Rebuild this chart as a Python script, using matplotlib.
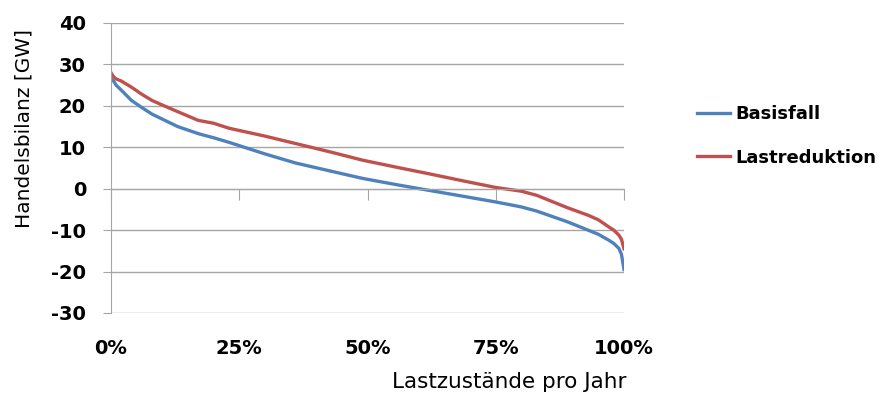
import matplotlib.pyplot as plt
from matplotlib.ticker import PercentFormatter

plt.rcParams['font.family'] = ['DejaVu Sans']
plt.rcParams['axes.unicode_minus'] = False

# Lastzustaende (Anteil pro Jahr, %)
anteil = [0, 0.5, 1, 2, 4, 6, 8, 10, 13, 17, 20, 23, 30, 36, 43, 49, 56, 62, 69,
          75, 80, 83, 86, 89, 91, 93, 95, 97, 98, 99, 99.5, 100]
basisfall = [26.5, 26, 25, 23.8, 21.3, 19.6, 18.0, 16.8, 15.0, 13.3, 12.3, 11.2,
             8.4, 6.2, 4.2, 2.5, 0.9, -0.4, -1.9, -3.2, -4.4, -5.4, -6.7, -8.0,
             -9.0, -10.0, -11.0, -12.4, -13.2, -14.4, -15.8, -19.5]
lastreduktion = [28, 27, 26.5, 26, 24.5, 22.8, 21.3, 20.2, 18.6, 16.5, 15.8, 14.6,
                 12.7, 10.9, 8.8, 6.9, 5.1, 3.6, 1.8, 0.3, -0.6, -1.6, -3.1, -4.6,
                 -5.5, -6.4, -7.5, -9.2, -10.0, -11.2, -12.2, -14.5]
x_ticks = [0, 25, 50, 75, 100]
y_ticks = [-30, -20, -10, 0, 10, 20, 30, 40]

grid_col = '#a6a6a6'

fig = plt.figure(figsize=(8.86, 3.96), dpi=100)
ax = fig.add_axes([111/886, 1 - 313/396, 513/886, 290/396])

ax.plot(anteil, basisfall, color='#4f81bd', lw=2.4, label='Basisfall')
ax.plot(anteil, lastreduktion, color='#c0504d', lw=2.4, label='Lastreduktion')

ax.set_xlim(0, 100)
ax.set_ylim(-30, 40)
ax.set_yticks(y_ticks)
ax.yaxis.grid(True, color=grid_col, lw=1)
ax.set_axisbelow(True)

for s in ['top', 'right']:
    ax.spines[s].set_visible(False)
ax.spines['left'].set_color(grid_col)
ax.spines['bottom'].set_position(('data', 0))
ax.spines['bottom'].set_color(grid_col)

ax.set_xticks(x_ticks)
ax.tick_params(axis='x', length=8, color=grid_col, labelbottom=False)
ax.tick_params(axis='y', length=6, color=grid_col, pad=12, labelsize=14)
for lab in ax.get_yticklabels():
    lab.set_fontweight('bold')

# x tick labels at bottom of plot
sec = ax.secondary_xaxis('bottom')
sec.set_xticks(x_ticks)
sec.xaxis.set_major_formatter(PercentFormatter(100, decimals=0))
sec.tick_params(length=0, pad=19, labelsize=14)
sec.spines['bottom'].set_visible(False)
for lab in sec.get_xticklabels():
    lab.set_fontweight('bold')

ax.set_ylabel('Handelsbilanz [GW]', fontsize=14.5)
ax.yaxis.set_label_coords(-0.152, (313 - 128) / 290)
fig.text(509/886, 1 - 382/396, 'Lastzustände pro Jahr', fontsize=15.5,
         ha='center', va='center')

leg = ax.legend(loc='center left', bbox_to_anchor=(1.142, 0.61), frameon=False,
                prop={'size': 13, 'weight': 'bold'}, handlelength=1.83,
                handletextpad=0.28, labelspacing=1.4, borderpad=0,
                borderaxespad=0)

fig.savefig('out.png', dpi=100)
